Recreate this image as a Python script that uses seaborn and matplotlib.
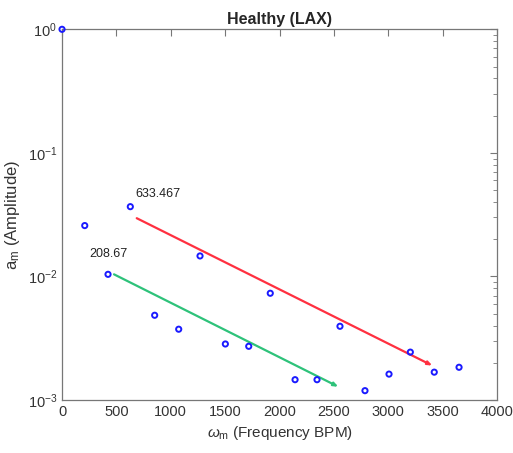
import numpy as np
import pandas as pd
import matplotlib
matplotlib.use("Agg")
import matplotlib.pyplot as plt
import seaborn as sns

# Harmonic peaks: frequency (BPM) and amplitude
freq_bpm = [0, 209, 423, 628, 852, 1073, 1269, 1502, 1717, 1915,
            2143, 2345, 2556, 2786, 3007, 3203, 3423, 3651]
amplitude = [1.0, 0.0258, 0.0104, 0.0367, 0.00485, 0.00374, 0.01465,
             0.00284, 0.00272, 0.00731, 0.00146, 0.00146, 0.00395,
             0.00119, 0.00162, 0.00244, 0.00168, 0.00184]

# Decay trend arrows: (x0, y0, x1, y1)
red_trend = (687, 0.0296, 3405, 0.0019)
green_trend = (478, 0.0104, 2541, 0.00128)

label_texts = ["633.467", "208.67"]
label_pos = [(671, 0.0465), (248, 0.0152)]

x_ticks = [0, 500, 1000, 1500, 2000, 2500, 3000, 3500, 4000]

sns.set_style("white")
plt.rcParams["font.family"] = ["Liberation Sans", "DejaVu Sans"]
plt.rcParams["mathtext.fontset"] = "custom"
plt.rcParams["mathtext.rm"] = "Liberation Sans"
plt.rcParams["mathtext.it"] = "Liberation Sans:italic"

fig = plt.figure(figsize=(5.13, 4.53), dpi=100)
ax = fig.add_axes([0.1209, 0.117, 0.8479, 0.8183])

df = pd.DataFrame({"freq": freq_bpm, "amp": amplitude})
sns.scatterplot(data=df, x="freq", y="amp", ax=ax, marker="o", s=14,
                facecolors="none", edgecolor="#1a1aff", linewidth=1.4,
                clip_on=False, zorder=4)

ax.set_yscale("log")
ax.set_xlim(0, 4000)
ax.set_ylim(1e-3, 1e0)
ax.set_xticks(x_ticks)

for (x0, y0, x1, y1), col in [(red_trend, "#ff3040"), (green_trend, "#2ec27a")]:
    ax.annotate("", xy=(x1, y1), xytext=(x0, y0),
                arrowprops=dict(arrowstyle="-|>,head_length=0.25,head_width=0.1",
                                color=col, lw=1.6, shrinkA=0, shrinkB=0))

for txt, (tx, ty) in zip(label_texts, label_pos):
    ax.text(tx, ty, txt, fontsize=9, color="#222222", va="center", ha="left")

ax.set_title("Healthy (LAX)", fontsize=11.5, fontweight="bold", pad=4)
ax.set_xlabel(r"$\omega_\mathrm{m}$ (Frequency BPM)", fontsize=11, color="#333333")
ax.set_ylabel(r"a$_\mathrm{m}$ (Amplitude)", fontsize=12, color="#333333")

for sp in ax.spines.values():
    sp.set_visible(True)
    sp.set_color("#777777")
    sp.set_linewidth(0.9)

ax.tick_params(which="both", direction="in", top=True, right=True,
               colors="#777777", labelcolor="#333333", labelsize=10.5)
ax.tick_params(which="major", length=5)
ax.tick_params(which="minor", length=3)

fig.savefig("out.png", dpi=100, facecolor="white")
